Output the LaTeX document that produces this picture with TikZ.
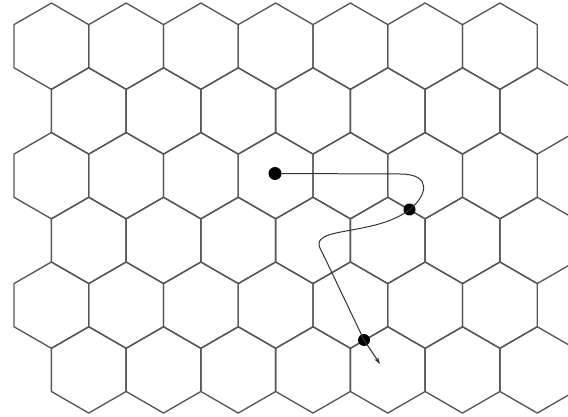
\documentclass[tikz,border=0pt]{standalone}
\usetikzlibrary{arrows.meta}
\begin{document}
\begin{tikzpicture}[x=1pt,y=-1pt]
\tikzset{
  hexcell/.style={draw=black!66,line width=1.35pt,line join=round},
  dotnode/.style={circle,fill=black,inner sep=0pt,minimum size=12pt},
  walk/.style={draw=black!80,line width=1pt}
}
\useasboundingbox (0,0) rectangle (568,417);
\begin{scope}
\clip (0,0) rectangle (568,417);
\foreach \r in {0,...,5}{
  \foreach \c in {0,...,6}{
    \pgfmathsetmacro\cx{51.4+\c*74.75+mod(\r,2)*37.37}
    \pgfmathsetmacro\cy{46.2+\r*64.74}
    \draw[hexcell] (\cx,\cy) +(30:43.16) -- +(90:43.16) -- +(150:43.16) -- +(210:43.16) -- +(270:43.16) -- +(330:43.16) -- cycle;
  }
}
\end{scope}
\node[dotnode,minimum size=13pt] (d1) at (275,173.5) {};
\node[dotnode] (d2) at (409.5,209.5) {};
\node[dotnode] (d3) at (364,340) {};
\coordinate (tip) at (380,364);
\coordinate (a1) at (400,174);
\coordinate (b1) at (332,234);
\coordinate (b2) at (322,252);
\draw[walk] (d1) -- (a1) .. controls (433,174) and (427,196) .. (d2.center);
\draw[walk] (d2.center) .. controls (388,227) and (350,229) .. (b1) .. controls (317,238) and (317,244) .. (b2) -- (d3.center);
\draw[walk,-{Stealth[length=7pt,width=4.5pt]}] (d3.center) -- (tip);
\end{tikzpicture}
\end{document}
